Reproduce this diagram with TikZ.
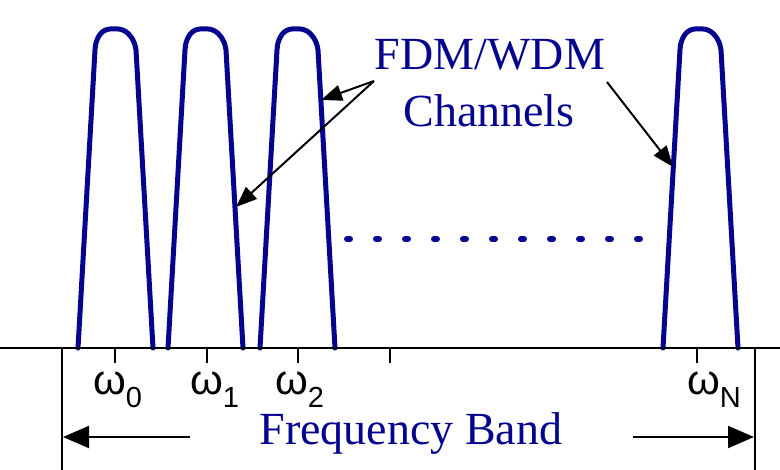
\documentclass[tikz,border=0pt]{standalone}
\usepackage{fontspec}
\setmainfont{Liberation Serif}
\newfontfamily\symfont{Liberation Sans}
\usetikzlibrary{arrows.meta}
\definecolor{chblue}{RGB}{4,4,142}
\tikzset{
  chan/.style={draw=chblue,line width=5pt,line join=round,line cap=round},
  axisline/.style={draw=black,line width=2pt},
  pointer/.style={draw=black,line width=2pt,-{Triangle[length=21pt,width=16pt]}},
  bandarrow/.style={draw=black,line width=2pt,-{Triangle[length=26pt,width=22pt]}},
  bluetext/.style={text=chblue,font=\fontsize{46}{50}\selectfont,inner sep=0pt},
  wlabel/.style={font=\symfont\fontsize{42}{44}\selectfont,inner sep=0pt,anchor=base west},
  tickmark/.style={draw=black,line width=2pt},
  dotrow/.style={draw=chblue,line width=6pt,line cap=round,dash pattern=on 3pt off 26pt}
}
\newcommand{\chanshape}[2]{%
  \draw[chan] (#1-37,348) coordinate (#2a) -- (#1-20,50)
    [rounded corners=6pt] -- (#1-19,40) -- (#1-11,29) -- (#1+9,29) -- (#1+19,40) [sharp corners] -- (#1+21,50) -- (#1+38,348) coordinate (#2b);}
\newcommand{\wsub}[1]{\raisebox{-13pt}{\fontsize{29}{30}\selectfont #1}}
\begin{document}
\begin{tikzpicture}[x=1pt,y=-1pt]
\useasboundingbox (0,0) rectangle (780,470);
% channels
\chanshape{115}{c0}
\chanshape{205}{c1}
\chanshape{297}{c2}
\chanshape{700}{cN}
% dotted row
\coordinate (d1) at (347,239);
\coordinate (d2) at (640,239);
\draw[dotrow] (d1) -- (d2);
% axis
\coordinate (axL) at (0,348);
\coordinate (axR) at (780,348);
\draw[axisline] (axL) -- (axR);
\foreach \x/\n in {115/t0,207/t1,298/t2,390/t3,697/tN}{
  \coordinate (\n) at (\x,348);
  \draw[tickmark] (\n) -- ++(0,15);
}
% band limits
\coordinate (bl) at (62,348);
\coordinate (blb) at (62,470);
\coordinate (br) at (755,348);
\coordinate (brb) at (755,470);
\draw[axisline] (bl) -- (blb);
\draw[axisline] (br) -- (brb);
% omega labels
\node[wlabel] (w0) at (93,395) {ω\wsub{0}};
\node[wlabel] (w1) at (190,395) {ω\wsub{1}};
\node[wlabel] (w2) at (275,395) {ω\wsub{2}};
\node[wlabel] (wN) at (687,395) {ω\wsub{N}};
% frequency band
\node[bluetext,anchor=base] (fb) at (411,445) {Frequency Band};
\coordinate (la) at (190,437);
\coordinate (lt) at (63,437);
\coordinate (ra) at (633,437);
\coordinate (rt) at (754,437);
\draw[bandarrow] (la) -- (lt);
\draw[bandarrow] (ra) -- (rt);
% labels
\node[bluetext,anchor=base] (fdm) at (490,70) {FDM/WDM};
\node[bluetext,anchor=base] (chn) at (489,127) {Channels};
\coordinate (p1) at (374,81);
\coordinate (p2) at (607,82);
\coordinate (h2) at (321,100);
\coordinate (h1) at (236,207);
\coordinate (hN) at (673,167);
\draw[pointer] (p1) -- (h2);
\draw[pointer] (p1) -- (h1);
\draw[pointer] (p2) -- (hN);
\end{tikzpicture}
\end{document}
